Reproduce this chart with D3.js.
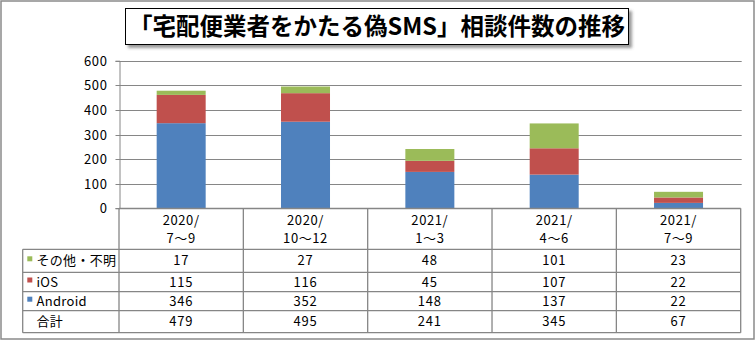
<!DOCTYPE html>
<html><head><meta charset="utf-8">
<script src="https://cdn.jsdelivr.net/npm/d3@7"></script>
<style>
html,body{margin:0;padding:0;background:#fff;}
svg{display:block;}
text{font-family:"Noto Sans CJK JP","Noto Sans",sans-serif;}
</style></head>
<body>
<svg id="c" width="756" height="341"></svg>
<script>
const title = "「宅配便業者をかたる偽SMS」相談件数の推移";
const categories = ["2020/\n7～9", "2020/\n10～12", "2021/\n1～3", "2021/\n4～6", "2021/\n7～9"];
const seriesNames = ["Android", "iOS", "その他・不明"];
const android = [346, 352, 148, 137, 22];
const ios = [115, 116, 45, 107, 22];
const other = [17, 27, 48, 101, 23];
const totals = [479, 495, 241, 345, 67];
const colors = ["#4F81BD", "#C0504D", "#9BBB59"];
const yTicks = [0, 100, 200, 300, 400, 500, 600];
const totalLabel = "合計";

const svg = d3.select("#c");
const defs = svg.append("defs");
const f = defs.append("filter").attr("id", "sh").attr("x", "-10%").attr("y", "-30%").attr("width", "130%").attr("height", "180%");
f.append("feDropShadow").attr("dx", 3).attr("dy", 3).attr("stdDeviation", 1.8).attr("flood-color", "#555").attr("flood-opacity", 0.6);

// outer border
svg.append("rect").attr("x", 1).attr("y", 1).attr("width", 753).attr("height", 338)
  .attr("fill", "#fff").attr("stroke", "#8a8a8a").attr("stroke-width", 1.5);

// title
svg.append("rect").attr("x", 125.5).attr("y", 8.5).attr("width", 503).attr("height", 36)
  .attr("fill", "#fff").attr("stroke", "#000").attr("stroke-width", 1).attr("filter", "url(#sh)");
svg.append("text").attr("x", 377).attr("y", 35).attr("text-anchor", "middle")
  .attr("font-size", 23.5).attr("font-weight", "bold").attr("fill", "#000").text(title);

const x0 = 119, x1 = 740.7;
const x = d3.scaleBand().domain(d3.range(categories.length)).range([x0, x1]).paddingInner(0).paddingOuter(0);
const y = d3.scaleLinear().domain([0, 600]).range([208.3, 60.7]);
const bw = 49;
const grid = "#868686";

// gridlines
svg.append("g").selectAll("line").data(yTicks.filter(d => d > 0)).join("line")
  .attr("x1", x0).attr("x2", x1 + 1).attr("y1", d => Math.round(y(d)) + 0.5).attr("y2", d => Math.round(y(d)) + 0.5)
  .attr("stroke", grid).attr("stroke-width", 1);

// y axis
const yAxis = d3.axisLeft(y).tickValues(yTicks).tickSize(4).tickPadding(8);
const ya = svg.append("g").attr("transform", `translate(${x0 + 0.5},0)`).call(yAxis);
ya.select(".domain").attr("stroke", grid);
ya.selectAll(".tick line").attr("stroke", grid);
ya.selectAll(".tick").attr("transform", d => `translate(0,${Math.round(y(d)) + 0.5})`);
ya.selectAll("text").attr("font-size", 13).attr("fill", "#000").attr("letter-spacing", "0.6px")
  .attr("font-family", "\"Noto Sans CJK JP\",sans-serif");

// stacked bars
const stackData = categories.map((c, i) => ({i, Android: android[i], iOS: ios[i], "その他・不明": other[i]}));
const stack = d3.stack().keys(seriesNames)(stackData);
svg.append("g").selectAll("g").data(stack).join("g").attr("fill", (d, k) => colors[k])
  .selectAll("rect").data(d => d).join("rect")
  .attr("x", d => x(d.data.i) + x.bandwidth() / 2 - bw / 2)
  .attr("width", bw)
  .attr("y", d => y(d[1]))
  .attr("height", d => y(d[0]) - y(d[1]));

// table
const rowY = [208.3, 249.3, 272.3, 291.7, 310.7, 332.7];
const tl = 22.7;
const tg = svg.append("g").attr("stroke", grid).attr("stroke-width", 1.3).attr("fill", "none");
// horizontal lines
rowY.forEach((ry, k) => {
  if (k === 0) return;
  tg.append("line").attr("x1", tl).attr("x2", x1).attr("y1", ry).attr("y2", ry);
});
tg.append("line").attr("x1", x0).attr("x2", x1).attr("y1", rowY[0] + 0.2).attr("y2", rowY[0] + 0.2);
// vertical lines
d3.range(categories.length + 1).forEach(k => {
  const vx = k < categories.length ? x(k) : x1;
  tg.append("line").attr("x1", vx).attr("x2", vx).attr("y1", rowY[0]).attr("y2", rowY[5]);
});
tg.append("line").attr("x1", tl).attr("x2", tl).attr("y1", rowY[1]).attr("y2", rowY[5]);

// category labels
const cg = svg.append("g");
categories.forEach((c, i) => {
  const parts = c.split("\n");
  const cx = x(i) + x.bandwidth() / 2;
  cg.append("text").attr("x", cx).attr("y", 225).attr("text-anchor", "middle").attr("font-size", 13).attr("letter-spacing", "0.6px").text(parts[0]);
  cg.append("text").attr("x", cx).attr("y", 243).attr("text-anchor", "middle").attr("font-size", 13).attr("letter-spacing", "0.6px").text(parts[1]);
});

// rows
const rows = [
  {name: "その他・不明", color: colors[2], vals: other},
  {name: "iOS", color: colors[1], vals: ios},
  {name: "Android", color: colors[0], vals: android},
  {name: totalLabel, color: null, vals: totals}
];
rows.forEach((r, k) => {
  const top = rowY[k + 1], bot = rowY[k + 2];
  const mid = (top + bot) / 2;
  if (r.color) {
    svg.append("rect").attr("x", 27.3).attr("y", mid - 4.5).attr("width", 5).attr("height", 5).attr("fill", r.color);
  }
  svg.append("text").attr("x", 36.5).attr("y", mid + 4.5).attr("font-size", 13).attr("letter-spacing", "0.3px").text(r.name);
  r.vals.forEach((v, i) => {
    svg.append("text").attr("x", x(i) + x.bandwidth() / 2).attr("y", mid + 4.5).attr("text-anchor", "middle")
      .attr("font-size", 13).attr("letter-spacing", "0.8px").text(v);
  });
});
</script>
</body></html>
